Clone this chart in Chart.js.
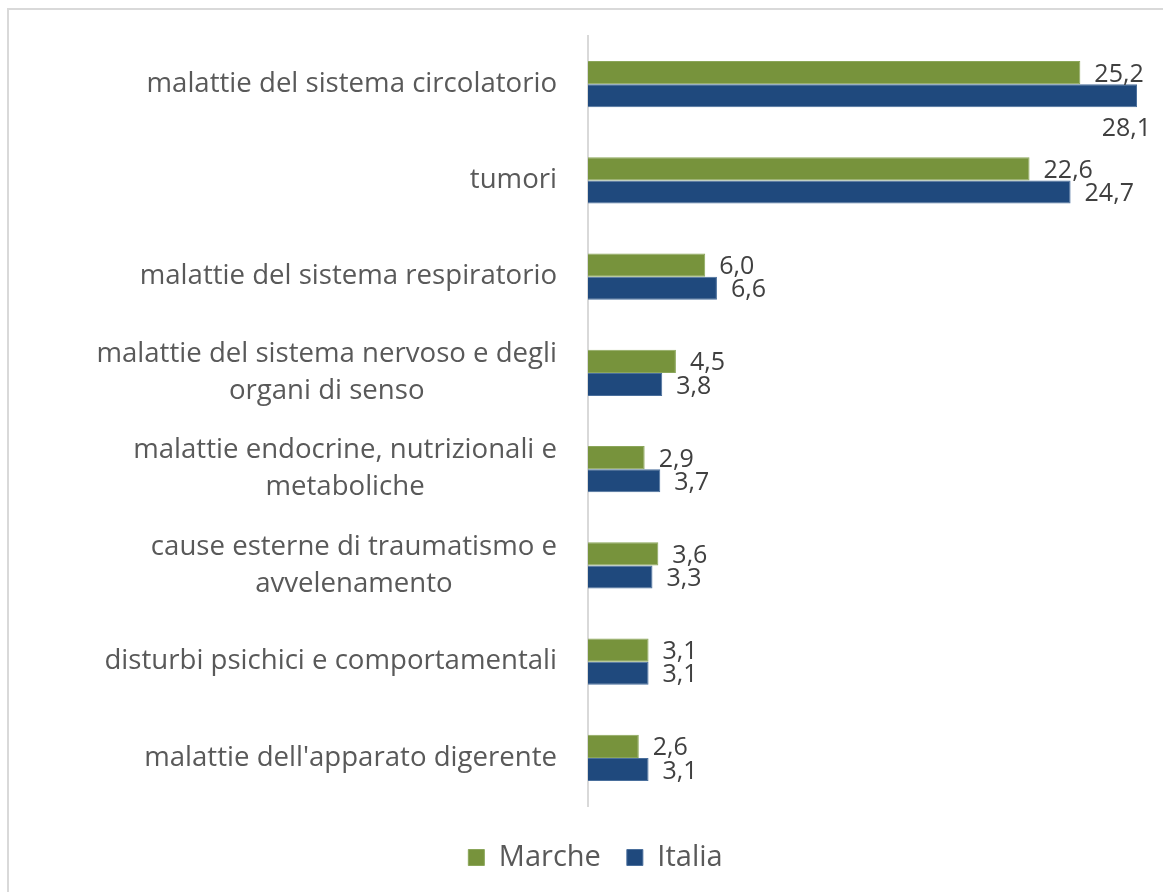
<!DOCTYPE html>
<html>
<head>
<meta charset="utf-8">
<script src="https://cdn.jsdelivr.net/npm/chart.js@4"></script>
<style>
    html, body { margin: 0; padding: 0; background: #fff; overflow: hidden; }
    #frame {
        position: absolute; left: 7px; top: 8px; width: 1200px; height: 950px;
        border-left: 2px solid #d9d9d9; border-top: 2px solid #d9d9d9;
    }
    #wrap { position: absolute; left: 0; top: 0; width: 1163px; height: 892px; }
</style>
</head>
<body>
<div id="frame"></div>
<div id="wrap"><canvas id="chart"></canvas></div>
<script>
// categories (multi-line ones as arrays)
const categories = [
    'malattie del sistema circolatorio',
    'tumori',
    'malattie del sistema respiratorio',
    ['malattie del sistema nervoso e degli', 'organi di senso'],
    ['malattie endocrine, nutrizionali e', 'metaboliche'],
    ['cause esterne di traumatismo e', 'avvelenamento'],
    'disturbi psichici e comportamentali',
    "malattie dell'apparato digerente"
];
const marche = [25.2, 22.6, 6.0, 4.5, 2.9, 3.6, 3.1, 2.6];
const italia = [28.1, 24.7, 6.6, 3.8, 3.7, 3.3, 3.1, 3.1];

const FONT = '"Open Sans", "Noto Sans", sans-serif';
const fmt = v => v.toFixed(1).replace('.', ',');

// category labels: block right-aligned, lines centred inside the block
const categoryLabels = {
    id: 'categoryLabels',
    afterDraw(chart) {
        const { ctx } = chart;
        const y = chart.scales.y;
        const right = y.right - 31;
        const lh = 37;
        ctx.save();
        ctx.font = '27.6px ' + FONT;
        ctx.fillStyle = '#595959';
        ctx.textBaseline = 'middle';
        ctx.textAlign = 'center';
        categories.forEach((c, i) => {
            const lines = Array.isArray(c) ? c : [c];
            const w = Math.max(...lines.map(l => ctx.measureText(l).width));
            const cx = right - w / 2;
            const cy = y.getPixelForTick(i);
            lines.forEach((l, k) => {
                ctx.fillText(l, cx, cy + (k - (lines.length - 1) / 2) * lh);
            });
        });
        ctx.restore();
    }
};

// value labels at the end of each bar, moved under the bar if no room
const valueLabels = {
    id: 'valueLabels',
    afterDatasetsDraw(chart) {
        const { ctx } = chart;
        ctx.save();
        ctx.font = '25px ' + FONT;
        ctx.fillStyle = '#404040';
        ctx.textBaseline = 'middle';
        ctx.textAlign = 'left';
        chart.data.datasets.forEach((ds, di) => {
            chart.getDatasetMeta(di).data.forEach((bar, i) => {
                const txt = fmt(ds.data[i]);
                const w = ctx.measureText(txt).width;
                let x = bar.x + 14, yy = bar.y + 2;
                if (x + w > chart.width - 8) {
                    x = chart.width - 12 - w;
                    yy = bar.y + bar.height + 10;
                }
                ctx.fillText(txt, x, yy);
            });
        });
        ctx.restore();
    }
};

new Chart(document.getElementById('chart'), {
    type: 'bar',
    data: {
        labels: categories,
        datasets: [
            { label: 'Marche', data: marche, backgroundColor: '#77933c', borderColor: '#8ba65a', borderWidth: 1 },
            { label: 'Italia', data: italia, backgroundColor: '#1f497d', borderColor: '#4a6f9c', borderWidth: 1 }
        ]
    },
    options: {
        indexAxis: 'y',
        responsive: true,
        maintainAspectRatio: false,
        animation: false,
        categoryPercentage: 0.48,
        barPercentage: 1.0,
        layout: { padding: { top: 36, right: 26, bottom: 10, left: 54 } },
        scales: {
            x: { display: false, min: 0, max: 28.1 },
            y: {
                grid: { display: false },
                border: { display: true, color: '#d9d9d9', width: 2 },
                ticks: { display: false },
                afterFit(s) { s.width = 534; }
            }
        },
        plugins: {
            tooltip: { enabled: false },
            legend: {
                position: 'bottom',
                title: { display: true, text: '', font: { size: 5 }, padding: 2.5 },
                labels: {
                    boxWidth: 16,
                    boxHeight: 16,
                    padding: 26,
                    color: '#595959',
                    font: { family: FONT, size: 29 }
                }
            }
        }
    },
    plugins: [categoryLabels, valueLabels]
});
</script>
</body>
</html>
